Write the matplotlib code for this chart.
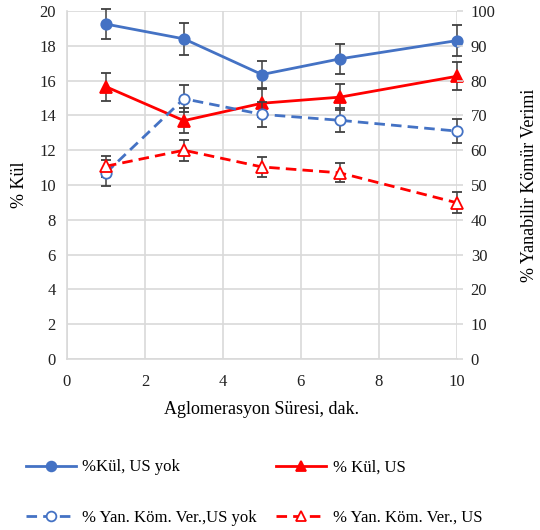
import matplotlib
matplotlib.use("Agg")
import matplotlib.pyplot as plt
from matplotlib.lines import Line2D

plt.rcParams['font.family'] = ['Liberation Serif', 'DejaVu Serif']

time_min = [1, 3, 5, 7, 10]
kul_us_yok = [19.25, 18.4, 16.35, 17.25, 18.3]
kul_us_yok_err = [0.85, 0.9, 0.8, 0.85, 0.9]
kul_us = [15.65, 13.7, 14.7, 15.05, 16.25]
kul_us_err = [0.8, 0.7, 0.8, 0.75, 0.8]
ver_us_yok = [53.5, 74.8, 70.3, 68.6, 65.5]
ver_us_yok_err = [3.7, 3.8, 3.6, 3.5, 3.4]
ver_us = [55.4, 60.0, 55.2, 53.5, 44.9]
ver_us_err = [3.0, 3.0, 2.8, 2.7, 3.0]

labels = ["%Kül, US yok", "% Kül, US", "% Yan. Köm. Ver.,US yok", "% Yan. Köm. Ver., US"]
left_ticks = [0, 2, 4, 6, 8, 10, 12, 14, 16, 18, 20]
right_ticks = [0, 10, 20, 30, 40, 50, 60, 70, 80, 90, 100]
x_ticks = [0, 2, 4, 6, 8, 10]

BLUE = "#4472C4"
RED = "#FF0000"
ECOL = "#404040"
GRID = "#D9D9D9"

fig = plt.figure(figsize=(5.4, 5.3), dpi=100)
ax = fig.add_axes([0.124, 0.3226, 0.722, 0.6566])
ax2 = ax.twinx()

dash = (0, (3.8, 2.2))
ebkw = dict(ecolor=ECOL, elinewidth=1.1, capsize=3.5, capthick=1.1)

series = [
    (ax, kul_us_yok, kul_us_yok_err, BLUE, '-', 'o', BLUE),
    (ax, kul_us, kul_us_err, RED, '-', '^', RED),
    (ax2, ver_us_yok, ver_us_yok_err, BLUE, dash, 'o', 'white'),
    (ax2, ver_us, ver_us_err, RED, dash, '^', 'white'),
]
handles = []
for a, vals, err, col, ls, mk, fc in series:
    ms = 7.5 if mk == 'o' else 8
    cont = a.errorbar(time_min, vals, yerr=err, color=col, lw=2, ls=ls,
                      marker=mk, ms=ms, mfc=fc, mec=col, mew=1.3, zorder=5, **ebkw)
    cont.lines[0].set_clip_on(False)
    for c in cont.lines[1]:
        c.set_clip_on(False)
    for c in cont.lines[2]:
        c.set_clip_on(False)
    handles.append(Line2D([], [], color=col, lw=2, ls=ls, marker=mk, ms=ms - 0.5,
                          mfc=fc, mec=col, mew=1.3))

ax.set_xlim(0, 10)
ax.set_ylim(0, 20)
ax2.set_ylim(0, 100)
ax.set_xticks(x_ticks)
ax.set_yticks(left_ticks)
ax2.set_yticks(right_ticks)

ax.grid(True, color=GRID, lw=1.2)
ax.set_axisbelow(True)
for a in (ax, ax2):
    for s in a.spines.values():
        s.set_visible(False)
ax.spines['left'].set_visible(True)
ax.spines['left'].set_color(GRID)
ax.spines['bottom'].set_visible(True)
ax.spines['bottom'].set_color(GRID)
ax.spines['bottom'].set_linewidth(1.2)
ax.spines['left'].set_linewidth(1.2)

ax.tick_params(axis='y', length=0, labelsize=12, colors='#222222', pad=8)
ax.tick_params(axis='x', length=0, labelsize=12, colors='#222222', pad=11)
ax2.tick_params(axis='y', length=4, width=1.2, color=GRID, labelsize=12, labelcolor='#222222', pad=6)

ax.set_xlabel("Aglomerasyon Süresi, dak.", fontsize=13, labelpad=8)
ax.set_ylabel("% Kül", fontsize=13, labelpad=8)
ax2.set_ylabel("% Yanabilir Kömür Verimi", fontsize=13, labelpad=18)

order = [0, 2, 1, 3]
fig.legend([handles[i] for i in order], [labels[i] for i in order],
           loc='lower left', bbox_to_anchor=(0.02, -0.02), ncol=2,
           frameon=False, fontsize=12, handlelength=3.0, columnspacing=1.15,
           labelspacing=2.05, handletextpad=0.4)

fig.savefig("out.png", dpi=100)
